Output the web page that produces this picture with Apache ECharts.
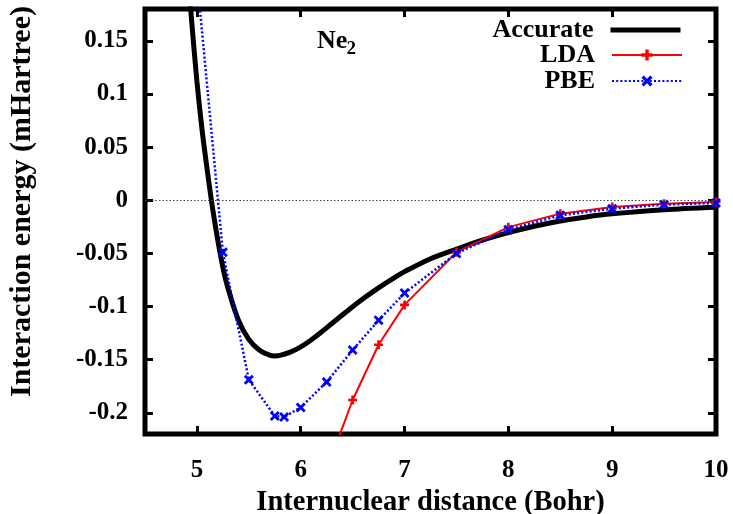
<!DOCTYPE html>
<html><head><meta charset="utf-8">
<script src="https://cdn.jsdelivr.net/npm/echarts@6/dist/echarts.min.js"></script>
<style>html,body{margin:0;padding:0;background:#fff}#c{width:733px;height:514px}</style>
</head><body><div id="c"></div>
<script>
// ---- data ----
const accurateX = [4.9, 4.95, 5.0, 5.05, 5.1, 5.15, 5.2, 5.25, 5.3, 5.4, 5.5, 5.6, 5.7, 5.75, 5.8, 5.9, 6.0, 6.1, 6.2, 6.3, 6.4, 6.5, 6.6, 6.7, 6.8, 6.9, 7.0, 7.25, 7.5, 7.75, 8.0, 8.25, 8.5, 8.75, 9.0, 9.5, 10.0];
const accurateY = [0.23, 0.168, 0.112, 0.066, 0.028, -0.007, -0.037, -0.063, -0.083, -0.113, -0.131, -0.141, -0.1458, -0.1465, -0.146, -0.143, -0.138, -0.1315, -0.124, -0.116, -0.108, -0.1002, -0.0928, -0.0858, -0.0792, -0.073, -0.0672, -0.055, -0.046, -0.0375, -0.0305, -0.0245, -0.0195, -0.0157, -0.0128, -0.0089, -0.0066];
const ldaX = [6.25, 6.5, 6.75, 7.0, 7.5, 8.0, 8.5, 9.0, 9.5, 10.0];
const ldaY = [-0.254, -0.188, -0.136, -0.0985, -0.049, -0.0253, -0.0126, -0.0063, -0.0032, -0.0016];
const pbeX = [5.0, 5.25, 5.5, 5.75, 5.84, 6.0, 6.25, 6.5, 6.75, 7.0, 7.5, 8.0, 8.5, 9.0, 9.5, 10.0];
const pbeY = [0.21, -0.049, -0.169, -0.203, -0.204, -0.195, -0.171, -0.141, -0.113, -0.0874, -0.050, -0.0278, -0.0142, -0.0079, -0.0041, -0.0025];
const xTicks = [5, 6, 7, 8, 9, 10];
const yTicks = [-0.2, -0.15, -0.1, -0.05, 0, 0.05, 0.1, 0.15];
const seriesNames = ['Accurate', 'LDA', 'PBE'];
const xTitle = 'Internuclear distance (Bohr)';
const yTitle = 'Interaction energy (mHartree)';

// ---- chart ----
const FONT = "'Liberation Serif', 'Times New Roman', serif";
const zip = (xs, ys) => xs.map((x, i) => [x, ys[i]]);
const fmt = v => String(Math.round(v * 100) / 100);
const PLUS = 'path://M3.5,0H6.5V3.5H10V6.5H6.5V10H3.5V6.5H0V3.5H3.5Z';
const CROSS = 'path://M0,2L2,0L5,3L8,0L10,2L7,5L10,8L8,10L5,7L2,10L0,8L3,5Z';

const tickStyle = { show: true, inside: true, length: 8, lineStyle: { color: '#000', width: 3 } };
const lblStyle = { fontFamily: FONT, fontWeight: 'bold', fontSize: 25, color: '#000' };

function legendFor(name, top, thick) {
  const l = {
    data: [name], right: 50, top: top, orient: 'vertical', align: 'right',
    itemWidth: 70, itemHeight: 14, padding: 0, selectedMode: false,
    textStyle: { fontFamily: FONT, fontWeight: 'bold', fontSize: 26, color: '#000', padding: [0, 12, 0, 0] }
  };
  if (thick) { l.itemStyle = { opacity: 0 }; l.lineStyle = { width: 5 }; }
  return l;
}

const chart = echarts.init(document.getElementById('c'), null, { renderer: 'canvas' });
chart.setOption({
  animation: false,
  backgroundColor: '#fff',
  grid: { left: 145, right: 17, top: 9, bottom: 80, show: true, borderColor: '#000', borderWidth: 5,
          backgroundColor: 'transparent', containLabel: false, outerBoundsMode: 'none' },
  legend: [legendFor(seriesNames[0], 17, true), legendFor(seriesNames[1], 42), legendFor(seriesNames[2], 68)],
  xAxis: [
    { type: 'value', min: 4.5, max: 10, position: 'bottom',
      axisLine: { show: false, onZero: false }, splitLine: { show: false },
      axisTick: Object.assign({ customValues: xTicks }, tickStyle),
      axisLabel: Object.assign({ customValues: xTicks, margin: 24, formatter: fmt }, lblStyle),
      name: xTitle, nameLocation: 'middle', nameGap: 45,
      nameTextStyle: { fontFamily: FONT, fontWeight: 'bold', fontSize: 28.5, color: '#000' } },
    { type: 'value', min: 4.5, max: 10, position: 'top',
      axisLine: { show: false, onZero: false }, splitLine: { show: false },
      axisTick: Object.assign({ customValues: xTicks }, tickStyle),
      axisLabel: { show: false } }
  ],
  yAxis: [
    { type: 'value', min: -0.22, max: 0.18, position: 'left',
      axisLine: { show: false, onZero: false }, splitLine: { show: false },
      axisTick: Object.assign({ customValues: yTicks }, tickStyle),
      axisLabel: Object.assign({ customValues: yTicks, margin: 17, formatter: fmt }, lblStyle),
      name: yTitle, nameLocation: 'middle', nameGap: 108, nameRotate: 90,
      nameTextStyle: { fontFamily: FONT, fontWeight: 'bold', fontSize: 30, color: '#000', padding: [0, 0, 0, 40] } },
    { type: 'value', min: -0.22, max: 0.18, position: 'right',
      axisLine: { show: false, onZero: false }, splitLine: { show: false },
      axisTick: Object.assign({ customValues: yTicks }, tickStyle),
      axisLabel: { show: false } }
  ],
  series: [
    { name: seriesNames[0], type: 'line', data: zip(accurateX, accurateY), smooth: 0.3,
      symbol: 'none', lineStyle: { color: '#000', width: 5 }, itemStyle: { color: '#000' },
      markLine: { silent: true, symbol: 'none', label: { show: false },
        lineStyle: { color: '#444', width: 1, type: [1.5, 2] }, data: [{ yAxis: 0 }] } },
    { name: seriesNames[1], type: 'line', data: zip(ldaX, ldaY),
      symbol: PLUS, symbolSize: 9, showAllSymbol: true,
      lineStyle: { color: '#ff0000', width: 2 }, itemStyle: { color: '#ff0000' } },
    { name: seriesNames[2], type: 'line', data: zip(pbeX, pbeY),
      symbol: CROSS, symbolSize: 10, showAllSymbol: true,
      lineStyle: { color: '#0000ff', width: 2.5, type: [2, 2.2] }, itemStyle: { color: '#0000ff' } }
  ],
  graphic: [
    { type: 'text', x: 317, y: 41, style: { text: 'Ne', fontFamily: FONT, fontWeight: 'bold', fontSize: 26, fill: '#000', verticalAlign: 'middle', align: 'left' } },
    { type: 'text', x: 346.5, y: 49, style: { text: '2', fontFamily: FONT, fontWeight: 'bold', fontSize: 19, fill: '#000', verticalAlign: 'middle', align: 'left' } }
  ]
});
</script>
</body></html>
